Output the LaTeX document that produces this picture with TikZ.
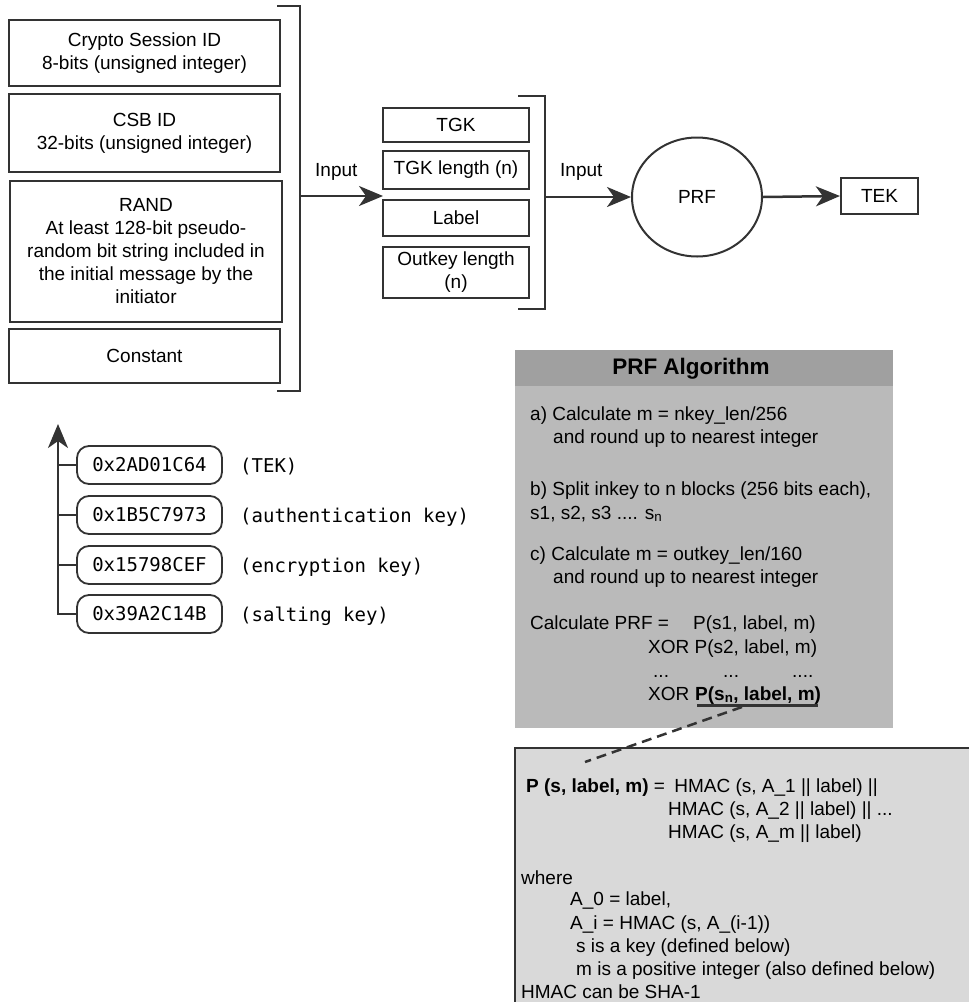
\documentclass[tikz,border=0pt]{standalone}
\usepackage{fontspec}
\setmainfont{Liberation Sans}
\newfontfamily\keyfont{DejaVu Sans Mono}
\usetikzlibrary{arrows.meta,shapes.geometric,calc}
\definecolor{ln}{HTML}{333333}
\definecolor{hdr}{HTML}{A0A0A0}
\definecolor{bdy}{HTML}{BABABA}
\definecolor{lgt}{HTML}{D9D9D9}
\begin{document}
\begin{tikzpicture}[x=1pt,y=-1pt,
  every node/.style={font=\fontsize{19}{23}\selectfont, inner sep=0pt},
  fbox/.style={draw=ln, line width=1.8pt, align=center},
  keybox/.style={draw=ln, line width=1.8pt, rounded corners=12pt, minimum width=145pt, minimum height=38pt, font=\keyfont\fontsize{19}{23}\selectfont},
  keylab/.style={anchor=west, font=\keyfont\fontsize{19}{23}\selectfont},
  txt/.style={anchor=base west},
  wire/.style={draw=ln, line width=2.5pt},
  arr/.style={draw=ln, line width=2.5pt, -{Stealth[length=24pt,width=20pt,inset=7pt]}},
  brk/.style={draw=ln, line width=2.5pt}
]
\useasboundingbox (0,0) rectangle (969,1002);

% left input boxes
\node[fbox, minimum width=271pt, minimum height=66pt] (b1) at (144.5,53) {Crypto Session ID\\8-bits (unsigned integer)};
\node[fbox, minimum width=271pt, minimum height=78pt] (b2) at (144.5,133) {CSB ID\\32-bits (unsigned integer)};
\node[fbox, line width=2.6pt, minimum width=272pt, minimum height=141pt] (b3) at (146,251.5) {RAND\\At least 128-bit pseudo-\\random bit string included in\\the initial message by the\\initiator};
\node[fbox, minimum width=271pt, minimum height=54pt] (b4) at (144.5,356) {Constant};

% bracket 1
\coordinate (t1) at (277,6);
\coordinate (u1) at (277,391);
\coordinate (br1) at (300,196);
\draw[brk] (t1) -- (300,6) -- (300,391) -- (u1);

% middle boxes
\node[fbox, minimum width=146pt, minimum height=34pt] (m1) at (456,125) {TGK};
\node[fbox, minimum width=146pt, minimum height=38pt] (m2) at (456,170) {TGK length (n)};
\node[fbox, minimum width=146pt, minimum height=36pt] (m3) at (456,218) {Label};
\node[fbox, minimum width=146pt, minimum height=51pt] (m4) at (456,272.5) {Outkey length\\(n)};
\coordinate (in2) at (383,196);
\draw[arr] (br1) -- (in2);
\node[txt] (lin1) at (315,176) {Input};

% bracket 2
\coordinate (t2) at (518,96);
\coordinate (u2) at (518,309);
\coordinate (br2) at (545,197);
\draw[brk] (t2) -- (545,96) -- (545,309) -- (u2);

% PRF and TEK
\node[draw=ln, line width=2pt, ellipse, minimum width=130pt, minimum height=119pt] (prf) at (697,197) {PRF};
\node[fbox, line width=2.2pt, minimum width=77pt, minimum height=36pt] (tek) at (879.5,196) {TEK};
\node[txt] (lin2) at (560,176) {Input};
\draw[arr] (br2) -- (prf.west);
\draw[arr] (prf.east) -- (tek.west);

% keys
\node[keybox] (k1) at (149.5,465) {0x2AD01C64};
\node[keybox] (k2) at (149.5,515) {0x1B5C7973};
\node[keybox] (k3) at (149.5,565) {0x15798CEF};
\node[keybox] (k4) at (149.5,614) {0x39A2C14B};
\node[keylab] (l1) at (240,467) {(TEK)};
\node[keylab] (l2) at (240,517) {(authentication key)};
\node[keylab] (l3) at (240,567) {(encryption key)};
\node[keylab] (l4) at (240,616) {(salting key)};
\coordinate (ktop) at (58,424);
\draw[arr] (k4.west) -| (ktop);
\foreach \k in {k1,k2,k3} {\draw[wire] (\k.west) -- (\k.west -| ktop);}

% PRF algorithm box
\fill[bdy] (515,350) rectangle (893,728);
\fill[hdr] (515,350) rectangle (893,386);
\node[font=\bfseries\fontsize{22.5}{26}\selectfont] (hd) at (691,369) {PRF Algorithm};
\node[txt] (a1) at (530,420) {a) Calculate m = nkey\_len/256};
\node[txt] (a2) at (553,443) {and round up to nearest integer};
\node[txt] (s1) at (530,495) {b) Split inkey to n blocks (256 bits each),};
\node[txt] (s2) at (530,519) {s1, s2, s3 .... s\textsubscript{n}};
\node[txt] (c1) at (530,560) {c) Calculate m = outkey\_len/160};
\node[txt] (c2) at (553,583) {and round up to nearest integer};
\node[txt] (d1) at (530,629) {Calculate PRF =};
\node[txt] (d1b) at (693,629) {P(s1, label, m)};
\node[txt] (d2) at (648,653) {XOR P(s2, label, m)};
\node[txt] (d3a) at (653,677) {...};
\node[txt] (d3b) at (723,677) {...};
\node[txt] (d3c) at (792,677) {....};
\node[txt] (d4) at (648,700) {XOR};
\node[txt] (d4b) at (695,700) {\textbf{P(s\textsubscript{n}, label, m)}};
\coordinate (ul1) at (697,705);
\coordinate (ul2) at (818,705);
\coordinate (ulm) at (742,707);
\draw[ln, line width=3pt] (ul1) -- (ul2);

% lower definition box
\fill[lgt] (515,748) rectangle (969,1002);
\draw[ln, line width=2.5pt] (515,1002) -- (515,748) -- (969,748);
\coordinate (dend) at (585,762);
\draw[ln, line width=2.5pt, dash pattern=on 10pt off 6pt] (ulm) -- (dend);

\node[txt] (p1) at (526,792) {\textbf{P (s, label, m)} =\hspace{4pt} HMAC (s, A\_1 || label) ||};
\node[txt] (p2) at (668,815) {HMAC (s, A\_2 || label) || ...};
\node[txt] (p3) at (668,838) {HMAC (s, A\_m || label)};
\node[txt] (w0) at (521,884) {where};
\node[txt] (w1) at (570,905) {A\_0 = label,};
\node[txt] (w2) at (570,929) {A\_i = HMAC (s, A\_(i-1))};
\node[txt] (w3) at (576,952) {s is a key (defined below)};
\node[txt] (w4) at (576,975) {m is a positive integer (also defined below)};
\node[txt] (w5) at (521,998) {HMAC can be SHA-1};
\end{tikzpicture}
\end{document}
